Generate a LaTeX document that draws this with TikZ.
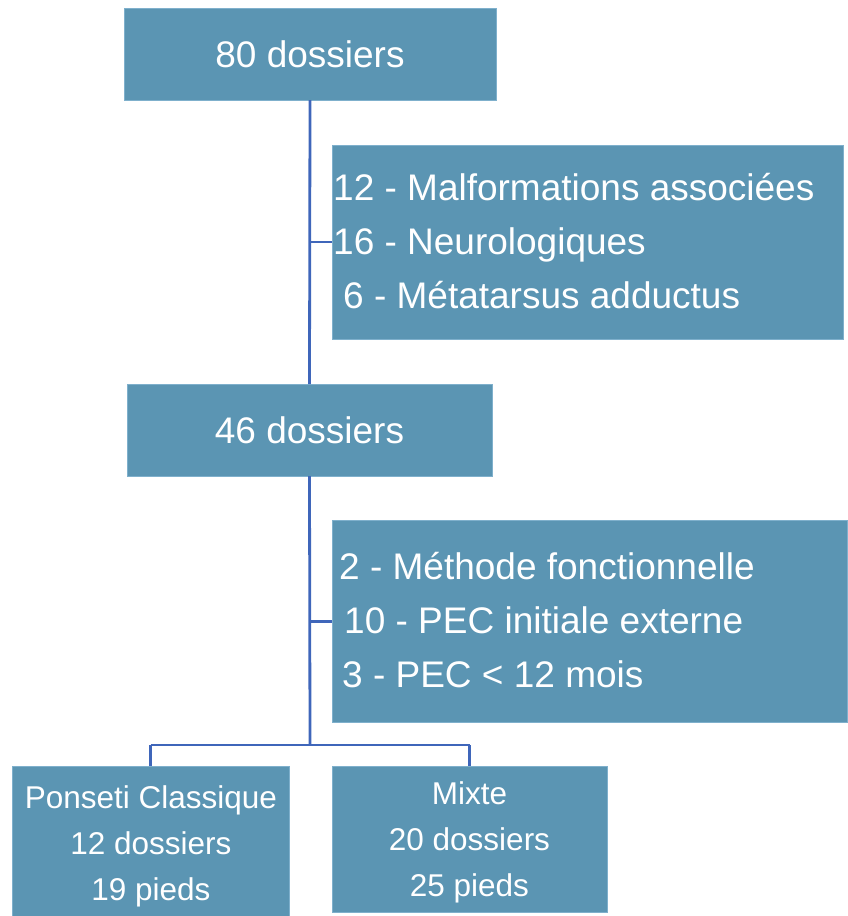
\documentclass[tikz,border=0pt]{standalone}
\usepackage{fontspec}
\setmainfont{Liberation Sans}
\definecolor{boxfill}{HTML}{5B95B3}
\definecolor{boxedge}{HTML}{7FB0CC}
\definecolor{linec}{HTML}{3F66BA}
\begin{document}
\begin{tikzpicture}[x=1pt,y=-1pt,
  box/.style={fill=boxfill,draw=boxedge,line width=0.8pt,text=white,inner sep=0pt,outer sep=0pt},
  big/.style={font=\fontsize{37}{54}\selectfont},
  small/.style={font=\fontsize{31.5}{46}\selectfont},
  conn/.style={draw=linec,line width=2.8pt}]
\useasboundingbox (0,0) rectangle (847,916);
% boxes
\node[box,big,minimum width=372pt,minimum height=92pt] (b80) at (310,54) {80 dossiers};
\node[box,big,minimum width=511pt,minimum height=194pt] (ex1) at (587.5,242) {};
\node[big,text=white,anchor=west,align=left,inner sep=0pt] (ex1t) at (333,241)
  {12 - Malformations associées\\16 - Neurologiques\\\hspace*{10pt}6 - Métatarsus adductus};
\node[box,big,minimum width=365pt,minimum height=92pt] (b46) at (309.5,430) {46 dossiers};
\node[box,minimum width=515pt,minimum height=202pt] (ex2) at (589.5,621.5) {};
\node[big,text=white,anchor=west,align=left,inner sep=0pt] (ex2t) at (339,620)
  {2 - Méthode fonctionnelle\\\hspace*{5pt}10 - PEC initiale externe\\\hspace*{3pt}3 - PEC < 12 mois};
\node[box,small,align=center,minimum width=277pt,minimum height=152pt] (pc) at (150.5,842) {};
\node[small,text=white,align=center,inner sep=0pt] (pct) at (151,846) {Ponseti Classique\\12 dossiers\\19 pieds};
\node[box,small,align=center,minimum width=275pt,minimum height=146pt] (mx) at (469.5,839) {};
\node[small,text=white,align=center,inner sep=0pt] (mxt) at (469.5,842) {Mixte\\20 dossiers\\25 pieds};
% connectors
\coordinate (j1) at (b80.south |- ex1.west);
\coordinate (j2) at (b46.south |- ex2.west);
\coordinate (j3) at (310,745);
\draw[conn] (b80.south) -- (b46.north);
\draw[conn] (j1) -- (ex1.west);
\draw[conn] (b46.south) -- (j3);
\draw[conn] (j2) -- (ex2.west);
\draw[conn] (pc.north |- j3) -- (mx.north |- j3);
\draw[conn] (pc.north |- j3) -- (pc.north);
\draw[conn] (mx.north |- j3) -- (mx.north);
\end{tikzpicture}
\end{document}
